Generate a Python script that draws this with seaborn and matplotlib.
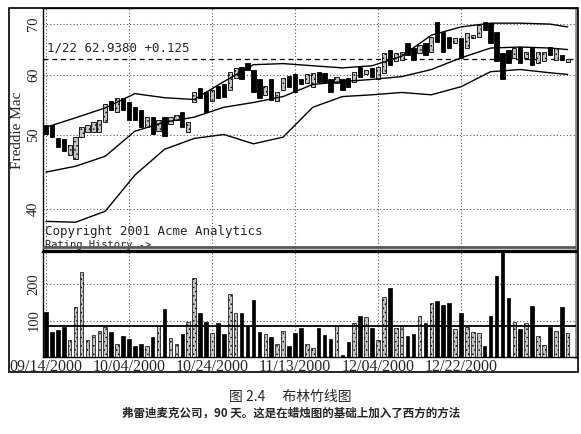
import numpy as np
import pandas as pd
import matplotlib
matplotlib.use("Agg")
import matplotlib.pyplot as plt
import seaborn as sns
from matplotlib.patches import Rectangle
from matplotlib.ticker import NullLocator

# ── Data ──────────────────────────────────────────────────────────────────────
opens = [51.5, 51.5, 49.5, 49.4, 47.1, 46.5, 49.7, 50.4, 50.4, 50.4,
         52.0, 55.4, 53.6, 55.9, 55.2, 54.5, 54.0, 51.2, 52.8, 50.6,
         52.8, 51.7, 52.4, 53.6, 50.4, 55.2, 57.7, 57.0, 55.4, 58.1,
         58.3, 57.4, 59.5, 61.5, 62.3, 61.0, 59.2, 56.5, 59.2, 55.4,
         57.4, 59.9, 60.1, 59.2, 58.6, 57.9, 60.6, 60.4, 59.2, 58.6,
         59.2, 59.5, 58.8, 61.5, 60.1, 61.3, 59.2, 60.4, 64.8, 62.5,
         62.8, 66.1, 65.1, 64.2, 66.1, 64.4, 70.4, 68.3, 67.3, 66.1,
         67.1, 65.1, 67.1, 67.3, 70.4, 70.2, 68.3, 64.2, 64.8, 63.2,
         65.3, 63.2, 65.1, 62.3, 62.5, 65.3, 62.8, 63.8, 62.4]
closes = [50.1, 49.7, 48.2, 47.6, 48.5, 49.7, 51.2, 51.5, 52.0, 52.3,
          54.9, 54.0, 55.9, 54.0, 52.4, 52.4, 51.2, 52.9, 50.1, 52.4,
          49.8, 52.9, 53.2, 51.3, 52.1, 56.9, 56.0, 53.7, 57.4, 56.0,
          56.2, 60.6, 61.3, 59.3, 61.0, 57.0, 56.0, 58.1, 55.7, 57.0,
          59.5, 57.9, 57.0, 58.3, 60.1, 60.4, 58.8, 58.8, 57.0, 59.7,
          57.4, 57.9, 60.6, 59.7, 61.0, 59.7, 61.5, 64.2, 61.9, 64.2,
          64.4, 63.8, 62.8, 65.7, 63.8, 67.3, 66.3, 64.4, 65.1, 67.1,
          63.2, 68.1, 67.7, 69.8, 68.8, 66.1, 62.5, 59.2, 62.3, 65.1,
          62.3, 64.4, 61.9, 64.4, 64.4, 63.8, 65.1, 62.8, 62.94]
volumes = [124, 68, 74, 83, 47, 136, 234, 48, 60, 71,
           83, 69, 37, 58, 49, 31, 35, 31, 56, 85,
           133, 53, 35, 62, 95, 216, 120, 95, 65, 92,
           62, 173, 120, 122, 85, 156, 69, 62, 56, 35,
           71, 31, 65, 79, 37, 26, 80, 60, 49, 85,
           5, 42, 92, 113, 110, 80, 47, 165, 188, 80,
           85, 58, 62, 112, 92, 147, 153, 142, 147, 76,
           122, 83, 69, 67, 30, 112, 222, 290, 163, 96,
           76, 92, 140, 58, 33, 83, 72, 138, 65]

band_idx = [0, 5, 10, 15, 20, 25, 30, 35, 40, 45, 50, 55, 60, 65, 70, 75, 80, 85, 88]
upper_band = [51.2, 52.7, 54.3, 56.7, 56.0, 55.7, 58.8, 61.9, 62.1, 61.7,
              61.3, 61.7, 63.5, 67.7, 69.4, 70.2, 70.2, 70.0, 69.4]
middle_band = [44.7, 45.5, 46.9, 50.6, 52.0, 52.8, 54.4, 55.2, 56.2, 58.3,
               58.8, 59.2, 59.7, 61.0, 63.2, 65.1, 65.3, 65.1, 64.8]
lower_band = [38.5, 38.4, 39.7, 44.3, 47.9, 49.5, 50.1, 48.7, 49.7, 54.4,
              56.2, 56.5, 56.9, 56.5, 57.9, 60.6, 61.0, 60.4, 60.1]

date_ticks = [0, 14, 28, 42, 56, 70]
date_labels = ["09/14/2000", "10/04/2000", "10/24/2000",
               "11/13/2000", "12/04/2000", "12/22/2000"]
price_ticks = [40, 50, 60, 70]
volume_ticks = [100, 200]
last_close = 62.938
avg_volume = 86

# ── Style ─────────────────────────────────────────────────────────────────────
sns.set_theme(style="white")
plt.rcParams["font.family"] = ["DejaVu Sans", "Noto Sans CJK SC"]
plt.rcParams["hatch.linewidth"] = 0.5
SERIF = "Liberation Serif"
MONO = "DejaVu Sans Mono"
GRID = dict(color="0.35", linestyle=(0, (1, 2)), linewidth=0.8)
UP_FACE = "#c4c4c4"

df = pd.DataFrame({"open": opens, "close": closes, "volume": volumes})
df["idx"] = np.arange(len(df))
df["up"] = df["close"] >= df["open"]
df["lo"] = df[["open", "close"]].min(axis=1)
df["body"] = (df["close"] - df["open"]).abs()

fig = plt.figure(figsize=(5.81, 4.34), dpi=100)
W, H = 581, 434
ax_p = fig.add_axes([43 / W, 1 - 250 / H, 533 / W, 242 / H])
ax_v = fig.add_axes([43 / W, 1 - 357 / H, 533 / W, 105 / H], sharex=ax_p)

# ── Price panel ───────────────────────────────────────────────────────────────
ax_p.set_yscale("log")
up, dn = df[df["up"]], df[~df["up"]]
ax_p.bar(dn["idx"], dn["body"], bottom=dn["lo"], width=0.72,
         color="black", edgecolor="black", linewidth=0.6, zorder=3)
ax_p.bar(up["idx"], up["body"], bottom=up["lo"], width=0.72,
         color=UP_FACE, edgecolor="black", linewidth=0.6, hatch="....", zorder=3)

for band in (upper_band, middle_band, lower_band):
    sns.lineplot(x=band_idx, y=band, ax=ax_p, color="black", linewidth=1.0, zorder=4)

ax_p.axhline(last_close, color="black", linestyle=(0, (4, 3)), linewidth=0.9, zorder=2)
ax_p.text(0.008, 64.4, "1/22 62.9380 +0.125", family=MONO, fontsize=9,
          transform=ax_p.get_yaxis_transform(), va="baseline", ha="left")
ax_p.text(0.004, 0.062, "Copyright 2001 Acme Analytics", family=MONO, fontsize=9,
          transform=ax_p.transAxes, va="baseline", ha="left")
ax_p.text(0.004, 0.002, "Rating History ->", family=MONO, fontsize=7.5,
          transform=ax_p.transAxes, va="bottom", ha="left")
ax_p.plot([0, 1], [0.013, 0.013], transform=ax_p.transAxes,
          color="0.35", linewidth=2.0, zorder=5)

ax_p.set_ylim(35.3, 73.5)
ax_p.yaxis.set_minor_locator(NullLocator())
ax_p.set_yticks(price_ticks)
ax_p.set_yticklabels([str(t) for t in price_ticks], rotation=90, va="center",
                     family=SERIF, fontsize=10.5)
ax_p.set_ylabel("")
ax_p.tick_params(axis="y", length=0, pad=2)

# ── Volume panel ──────────────────────────────────────────────────────────────
ax_v.bar(dn["idx"], dn["volume"], width=0.6, color="black",
         edgecolor="black", linewidth=0.5, zorder=3)
ax_v.bar(up["idx"], up["volume"], width=0.6, color=UP_FACE,
         edgecolor="black", linewidth=0.5, hatch="....", zorder=3)
ax_v.axhline(avg_volume, color="black", linewidth=1.3, zorder=4)
ax_v.set_ylim(0, 288)
ax_v.set_yticks(volume_ticks)
ax_v.set_yticklabels([str(t) for t in volume_ticks], rotation=90, va="center",
                     family=SERIF, fontsize=10.5)
ax_v.set_xticks(date_ticks)
ax_v.set_xticklabels(date_labels, family=SERIF, fontsize=11.5)
ax_v.xaxis.set_minor_locator(NullLocator())
ax_v.tick_params(axis="x", length=0, pad=1.5)
ax_v.tick_params(axis="y", length=0, pad=2)
ax_v.set_xlim(-0.5, 89.4)
ax_p.tick_params(axis="x", labelbottom=False, length=0)

for ax in (ax_p, ax_v):
    ax.set_axisbelow(True)
    ax.xaxis.grid(True, **GRID)
    ax.yaxis.grid(True, **GRID)
    for sp in ax.spines.values():
        sp.set_color("black")
        sp.set_linewidth(1.0)
    ax.spines["right"].set_color("0.55")
    ax.spines["right"].set_linewidth(2.0)
ax_v.spines["top"].set_linewidth(1.6)

# ── Frame, axis title, caption ────────────────────────────────────────────────
fig.patches.append(Rectangle((9 / W, 1 - 372 / H), 569 / W, 364 / H,
                             transform=fig.transFigure, fill=False,
                             edgecolor="black", linewidth=1.2))
fig.text(18 / W, 1 - 130 / H, "Freddie Mac", rotation=90, family=SERIF,
         fontsize=11, ha="center", va="center")
fig.text(0.5, 1 - 397 / H, "图 2.4　 布林竹线图", ha="center", va="center",
         family=["Noto Sans CJK SC", "DejaVu Sans"], fontsize=10)
fig.text(0.501, 1 - 413 / H, "弗雷迪麦克公司，90 天。这是在蜡烛图的基础上加入了西方的方法",
         ha="center", va="center", family=["Noto Sans CJK SC", "DejaVu Sans"],
         fontsize=8.3, fontweight="bold")

fig.savefig("out.png", dpi=100)
